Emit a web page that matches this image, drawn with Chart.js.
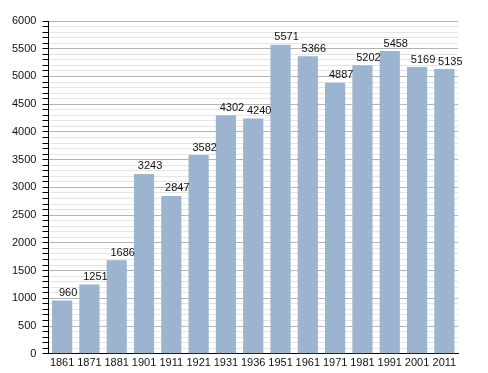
<!DOCTYPE html>
<html lang="en">
<head>
  <meta charset="UTF-8" />
  <title>Population</title>
  <style>
    body { margin: 0; background: #fff; }
    #wrap { width: 488px; height: 373px; }
  </style>
</head>
<body>
  <div id="wrap"><canvas id="chart"></canvas></div>

  <script src="https://cdn.jsdelivr.net/npm/chart.js"></script>
  <script>
    const years = ['1861', '1871', '1881', '1901', '1911', '1921', '1931', '1936',
                   '1951', '1961', '1971', '1981', '1991', '2001', '2011'];
    const population = [960, 1251, 1686, 3243, 2847, 3582, 4302, 4240,
                        5571, 5366, 4887, 5202, 5458, 5169, 5135];

    // value labels above the bars, nudged a little right like the original
    const barLabels = {
      id: 'barLabels',
      afterDatasetsDraw(chart) {
        const ctx = chart.ctx;
        const meta = chart.getDatasetMeta(0);
        ctx.save();
        ctx.font = '11px "Liberation Sans", Arial, sans-serif';
        ctx.fillStyle = '#111';
        ctx.textAlign = 'center';
        ctx.textBaseline = 'bottom';
        meta.data.forEach((bar, i) => {
          ctx.fillText(population[i], bar.x + 6, bar.y - 2);
        });
        ctx.restore();
      }
    };

    new Chart(document.getElementById('chart'), {
      type: 'bar',
      data: {
        labels: years,
        datasets: [{
          data: population,
          backgroundColor: '#9cb4d0',
          borderWidth: 0,
          barPercentage: 0.74,
          categoryPercentage: 1.0
        }]
      },
      options: {
        responsive: true,
        maintainAspectRatio: false,
        animation: false,
        layout: { padding: { top: 21, right: 30, left: 6, bottom: 0 } },
        plugins: { legend: { display: false }, tooltip: { enabled: false } },
        scales: {
          x: {
            grid: { display: false, drawTicks: false },
            border: { color: '#000', width: 1 },
            ticks: {
              color: '#111',
              padding: 3,
              maxRotation: 0,
              autoSkip: false,
              font: { family: '"Liberation Sans", Arial, sans-serif', size: 11 }
            }
          },
          y: {
            min: 0,
            max: 6000,
            border: { color: '#000', width: 1 },
            grid: {
              color: c => (c.tick.value % 500 === 0 ? '#b4b4b4' : '#e4e4e4'),
              tickColor: '#000',
              tickLength: 6,
              lineWidth: 1
            },
            ticks: {
              stepSize: 100,
              autoSkip: false,
              color: '#111',
              padding: 6,
              font: { family: '"Liberation Sans", Arial, sans-serif', size: 11 },
              callback: v => (v % 500 === 0 ? v : '')
            }
          }
        }
      },
      plugins: [barLabels]
    });
  </script>
</body>
</html>
